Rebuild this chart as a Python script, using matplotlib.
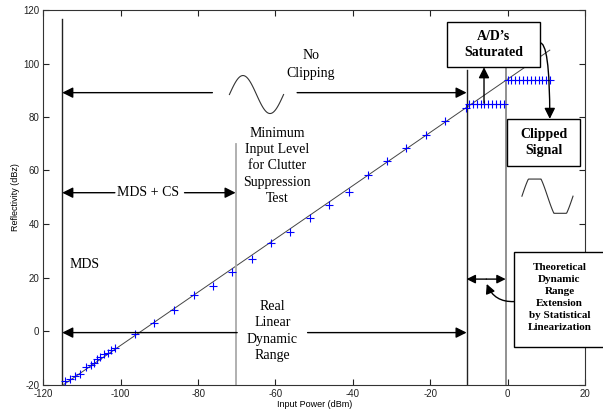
import numpy as np
import matplotlib
matplotlib.use("Agg")
import matplotlib.pyplot as plt
from matplotlib.patches import Rectangle

plt.rcParams["axes.unicode_minus"] = False

# ---- data ----
meas_x = [-114.3, -113.0, -111.7, -110.4, -108.9, -107.8, -107.0, -106.1, -105.4,
          -104.2, -103.4, -102.4, -101.4,
          -96.2, -91.3, -86.3, -81.1, -76.2, -71.2, -66.0, -61.2, -56.3, -51.0,
          -46.1, -41.1, -36.1, -31.1, -26.2, -21.1, -16.1, -10.8]
meas_y = [-18.7, -18.1, -16.7, -16.0, -13.3, -12.7, -12.1, -10.5, -9.6,
          -8.7, -8.1, -7.1, -6.2,
          -1.1, 3.1, 8.0, 13.6, 16.9, 22.2, 26.8, 32.8, 37.1, 42.1,
          47.1, 52.1, 58.4, 63.4, 68.4, 73.4, 78.5, 83.2]
sat1_x = [-10, -9, -8, -7, -6, -5, -4, -3, -2, -1]
sat1_y = [84.8] * len(sat1_x)
sat2_x = [0, 1, 2, 3, 4, 5, 6, 7, 8, 9, 10, 11]
sat2_y = [93.8] * len(sat2_x)
fit_x = [-114.7, 10.9]
fit_y = [-20.0, 105.0]

x_ticks = [-120, -100, -80, -60, -40, -20, 0, 20]
y_ticks = [-20, 0, 20, 40, 60, 80, 100, 120]

serif = ["Liberation Serif", "DejaVu Serif"]
sans = ["Liberation Sans", "DejaVu Sans"]

fig = plt.figure(figsize=(6.03, 4.11), dpi=100)
ax = fig.add_axes([43.3 / 603, (411 - 384.5) / 411, 541.7 / 603, (384.5 - 10) / 411])
ax.set_xlim(-120, 20)
ax.set_ylim(-20, 120)
ax.set_xticks(x_ticks)
ax.set_yticks(y_ticks)
ax.tick_params(direction="in", length=4, width=0.8, top=True, right=True,
               labelsize=7, pad=3, colors="#222222")
for lab in ax.get_xticklabels() + ax.get_yticklabels():
    lab.set_fontfamily(sans)
for s in ax.spines.values():
    s.set_linewidth(0.8)
    s.set_color("#333333")
ax.set_xlabel("Input Power (dBm)", fontsize=6.5, family=sans, labelpad=1)
ax.set_ylabel("Reflectivity (dBz)", fontsize=6.5, family=sans, labelpad=2)

# fit line and markers
ax.plot(fit_x, fit_y, color="#444444", lw=0.7, zorder=2)
ax.plot(meas_x, meas_y, "+", color="blue", ms=6, mew=0.8, zorder=3)
ax.plot(sat1_x, sat1_y, "+", color="blue", ms=6, mew=0.8, zorder=3)
ax.plot(sat2_x, sat2_y, "+", color="blue", ms=6, mew=0.8, zorder=3)

# vertical lines
ax.plot([-115.1, -115.1], [-20, 116.5], color="#222222", lw=1.0)
ax.plot([-70.3, -70.3], [-20, 70], color="#aaaaaa", lw=1.3)
ax.plot([-10.6, -10.6], [-20, 97.5], color="#222222", lw=1.0)
ax.plot([-0.5, -0.5], [-20, 98.6], color="#888888", lw=1.3)

ap = dict(arrowstyle="-|>", mutation_scale=16, color="black", lw=1.0,
          shrinkA=0, shrinkB=0)
def arrow(x0, y0, x1, y1, **kw):
    p = dict(ap)
    p.update(kw)
    ax.annotate("", xy=(x1, y1), xytext=(x0, y0), arrowprops=p,
                annotation_clip=False)

# No clipping arrow
arrow(-76.3, 89.1, -115.1, 89.1)
arrow(-54.4, 89.1, -10.6, 89.1)
# MDS + CS
arrow(-101.5, 51.7, -115.1, 51.7)
arrow(-83.5, 51.7, -70.3, 51.7)
# Real linear dynamic range
arrow(-69.9, -0.6, -115.1, -0.6)
arrow(-51.7, -0.6, -10.6, -0.6)
# theoretical small double arrow
arrow(-5.5, 19.4, -10.6, 19.4, mutation_scale=13)
arrow(-5.5, 19.4, -0.5, 19.4, mutation_scale=13)
# saturated arrow up
arrow(-6.1, 85.2, -6.1, 98.6)
# curved arrow from A/D box to Clipped Signal
arrow(8.25, 107.7, 10.9, 79.3, connectionstyle="angle3,angleA=10,angleB=90")
# curved arrow from theoretical box
arrow(1.7, 11.0, -5.4, 17.6, connectionstyle="arc3,rad=-0.35", mutation_scale=14)

# sine icon
t = np.linspace(0, 2 * np.pi, 100)
ax.plot(-71.9 + t / (2 * np.pi) * 14.0, 88.4 + 7.1 * np.sin(t), color="#333333", lw=0.8)
# clipped sine icon
ax.plot(3.7 + t / (2 * np.pi) * 13.2, 50.4 + np.clip(9.0 * np.sin(t), -6.4, 6.4),
        color="#333333", lw=0.8)

# texts
tk = dict(family=serif, fontsize=10, ha="center", va="center", color="black")
ax.text(-50.9, 99.8, "No\nClipping", linespacing=1.5, **tk)
ax.text(-59.5, 61.7, "Minimum\nInput Level\nfor Clutter\nSuppression\nTest",
        linespacing=1.32, **tk)
ax.text(-92.8, 51.7, "MDS + CS", **tk)
ax.text(-109.3, 24.7, "MDS", **tk)
ax.text(-60.8, 0.0, "Real\nLinear\nDynamic\nRange", linespacing=1.32, **tk)

# boxes
def box(x0, x1, y0, y1):
    ax.add_patch(Rectangle((x0, y0), x1 - x0, y1 - y0, fill=True, facecolor="white",
                           edgecolor="black", lw=1.0, clip_on=False, zorder=5))

box(-15.55, 8.25, 98.6, 115.6)
ax.text(-3.65, 107.1, "A/D\u2019s\nSaturated", family=serif, fontsize=10,
        weight="bold", ha="center", va="center", linespacing=1.35, zorder=6)
box(-0.1, 18.75, 61.8, 79.25)
ax.text(9.3, 70.5, "Clipped\nSignal", family=serif, fontsize=10,
        weight="bold", ha="center", va="center", linespacing=1.35, zorder=6)
box(1.7, 27.0, -5.9, 29.6)
ax.text(13.4, 12.5,
        "Theoretical\nDynamic\nRange\nExtension\nby Statistical\nLinearization",
        family=serif, fontsize=8, weight="bold", ha="center", va="center",
        linespacing=1.45, zorder=6)

fig.savefig("out.png", dpi=100)
